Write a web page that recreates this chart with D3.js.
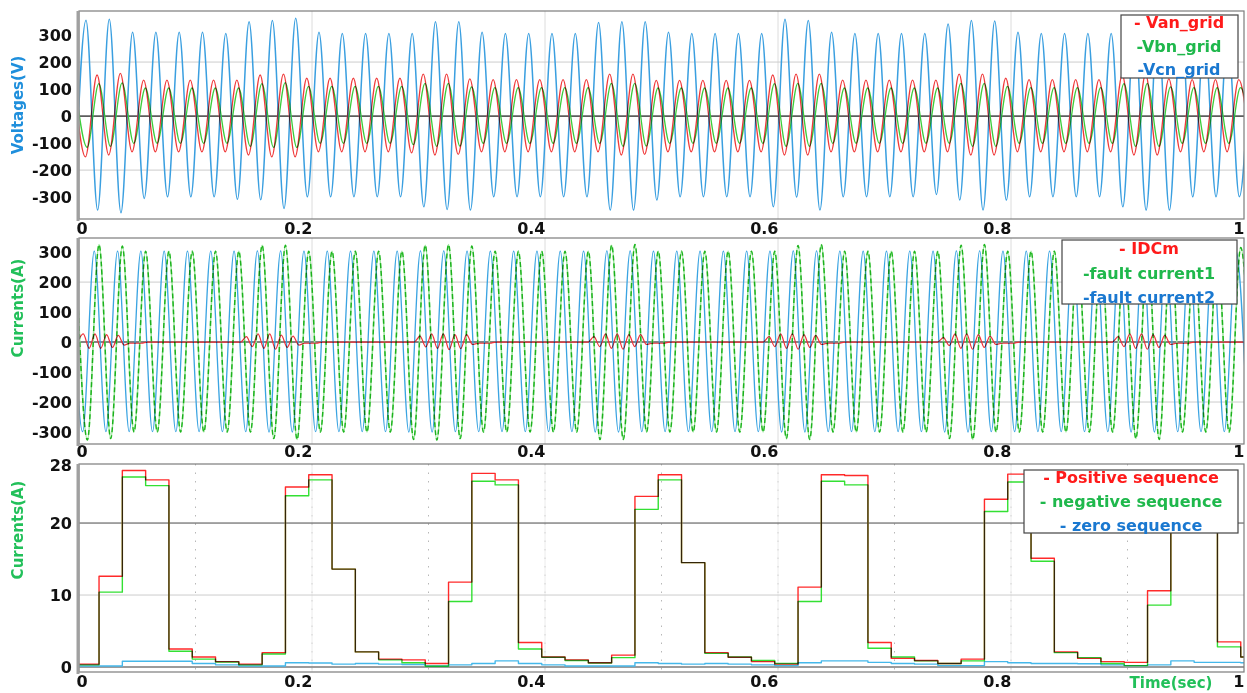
<!DOCTYPE html>
<html><head><meta charset="utf-8">
<script src="https://cdn.jsdelivr.net/npm/d3@7"></script>
<style>
body{margin:0;background:#fff;}
svg{display:block;font-family:"DejaVu Sans",sans-serif;font-weight:bold;}
.trace{fill:none;mix-blend-mode:multiply;stroke-linejoin:round;}
</style></head><body>
<svg id="c" width="1247" height="693"></svg>
<script>
// ---------- DATA ----------
const xTicks = [0, 0.2, 0.4, 0.6, 0.8, 1];
const xTickLabels = ["0", "0.2", "0.4", "0.6", "0.8", "1"];
const voltTicks = [300, 200, 100, 0, -100, -200, -300];
const currTicks = [300, 200, 100, 0, -100, -200, -300];
const seqTicks = [28, 20, 10, 0];
const halfPeriod = 0.01; // 50 Hz waveform: one extremum every 10 ms

// Panel 1 : grid voltages (extremum values per half cycle)
const vcnStart = -0.004; // first value is a trough
const vcnTroughs = [-340, -348, -358, -305, -299, -299, -299, -308, -310, -342, -299, -299, -299, -299, -299, -336, -346, -348, -299, -299, -299, -299, -299, -348, -348, -311, -299, -299, -299, -299, -336, -300, -348, -299, -299, -299, -299, -290, -311, -348, -311, -299, -299, -299, -299, -336, -348, -348, -299, -299, -299];
const vcnPeaks = [355, 358, 310, 310, 310, 310, 306, 349, 354, 362, 310, 306, 306, 306, 306, 349, 349, 310, 306, 306, 306, 306, 346, 349, 349, 310, 306, 306, 306, 306, 358, 354, 310, 306, 306, 306, 306, 341, 354, 352, 310, 306, 306, 306, 306, 345, 350, 350, 310, 306, 306];
const vanStart = -0.0045; // first value is a peak
const vanPeaks = [135, 152, 158, 133, 133, 133, 133, 133, 152, 155, 140, 140, 140, 140, 140, 155, 155, 138, 135, 135, 135, 135, 135, 155, 155, 132, 132, 132, 132, 132, 152, 155, 155, 133, 133, 133, 133, 133, 155, 155, 140, 135, 135, 135, 135, 152, 155, 138, 135, 135, 135];
const vanTroughs = [-151, -144, -132, -132, -132, -132, -132, -144, -151, -151, -132, -132, -132, -132, -136, -144, -142, -132, -132, -132, -132, -132, -132, -144, -142, -132, -132, -132, -132, -132, -144, -144, -132, -132, -132, -132, -132, -132, -144, -144, -132, -132, -132, -132, -132, -144, -144, -132, -132, -132, -132];
const vbnStart = -0.003; // first value is a peak
const vbnPeaks = [105, 120, 123, 104, 104, 104, 104, 104, 120, 124, 110, 110, 110, 110, 110, 121, 121, 108, 105, 105, 105, 105, 105, 121, 121, 104, 104, 104, 104, 104, 120, 121, 121, 104, 104, 104, 104, 104, 121, 121, 110, 105, 105, 105, 105, 120, 121, 108, 105, 105, 105];
const vbnTroughs = [-116, -112, -101, -101, -101, -101, -101, -112, -116, -116, -101, -101, -101, -101, -106, -112, -111, -101, -101, -101, -101, -101, -101, -112, -111, -101, -101, -101, -101, -101, -112, -112, -101, -101, -101, -101, -101, -101, -112, -112, -101, -101, -101, -101, -101, -112, -112, -101, -101, -101, -101];

// Panel 2 : currents
const fc1Start = -0.0028; // first value is a peak
const fc1Peaks = [320, 325, 320, 303, 303, 303, 303, 303, 323, 323, 303, 303, 303, 303, 303, 323, 325, 320, 303, 303, 303, 303, 303, 323, 325, 303, 303, 303, 303, 303, 303, 322, 325, 303, 303, 303, 303, 303, 323, 325, 303, 303, 303, 303, 303, 303, 323, 323, 303, 305, 315];
const fc1Troughs = [-327, -322, -300, -300, -300, -300, -300, -300, -322, -325, -300, -300, -300, -300, -325, -327, -322, -300, -300, -300, -300, -300, -325, -325, -300, -300, -300, -300, -300, -300, -322, -325, -300, -300, -300, -300, -300, -322, -325, -300, -300, -300, -300, -300, -300, -322, -325, -300, -300, -300, -300];
const fc2Start = -0.0069; // first value is a peak
const fc2Peaks = [303, 303, 303, 303, 303, 303, 303, 303, 304, 304, 303, 303, 303, 303, 303, 304, 304, 303, 303, 303, 303, 303, 303, 304, 304, 303, 303, 303, 303, 303, 303, 304, 304, 303, 303, 303, 303, 303, 304, 304, 303, 303, 303, 303, 303, 303, 304, 304, 303, 303, 303];
const fc2Troughs = [-299, -299, -299, -299, -299, -299, -299, -299, -300, -300, -299, -299, -299, -299, -300, -300, -299, -299, -299, -299, -299, -299, -300, -300, -299, -299, -299, -299, -299, -299, -300, -300, -299, -299, -299, -299, -299, -300, -300, -299, -299, -299, -299, -299, -299, -300, -300, -299, -299, -299, -299];
const idcmStep = 0.005;
const idcmStarts = [-0.0013, 0.1387, 0.2877, 0.4370, 0.5873, 0.7370, 0.8870];
const idcmBursts = [
  [0, 27, -21, 27, -21, 25, -18, 22, -10, -4, -4, -4, 0],
  [0, 18, -15, 27, -21, 27, -24, 23, -18, 20, -10, -4, -4, -4, 0],
  [0, 20, -16, 27, -21, 27, -25, 25, -22, 25, -8, -4, -4, -4, 0],
  [0, 18, -15, 27, -21, 27, -24, 25, -15, 25, -8, -4, -4, -4, 0],
  [0, 18, -15, 27, -21, 27, -24, 25, -18, 22, -8, -4, -4, -4, 0],
  [0, 15, -12, 27, -21, 27, -24, 25, -18, 20, -8, -4, -4, -4, 0],
  [0, 18, -15, 27, -21, 27, -24, 25, -18, 22, -8, -4, -4, -4, 0]
];

// Panel 3 : sequence currents, one value per 20 ms step
const seqFirstEdge = 0.0172, seqStep = 0.02;
const positiveSeq = [0.4, 12.6, 27.3, 26.0, 2.5, 1.4, 0.75, 0.4, 2.0, 25.0, 26.7, 13.6, 2.1, 1.1, 1.0, 0.5, 11.8, 26.9, 26.0, 3.4, 1.4, 1.0, 0.6, 1.65, 23.7, 26.7, 14.5, 2.0, 1.35, 0.75, 0.4, 11.1, 26.7, 26.6, 3.4, 1.2, 0.9, 0.5, 1.1, 23.3, 26.8, 15.1, 2.1, 1.2, 0.75, 0.65, 10.6, 27.0, 26.2, 3.5, 1.4];
const negativeSeq = [0.3, 10.4, 26.4, 25.2, 2.2, 1.1, 0.7, 0.3, 1.8, 23.8, 26.0, 13.6, 2.1, 1.0, 0.6, 0.1, 9.1, 25.8, 25.3, 2.5, 1.35, 0.9, 0.55, 1.3, 21.9, 26.0, 14.5, 1.9, 1.4, 0.9, 0.5, 9.1, 25.8, 25.3, 2.6, 1.4, 0.85, 0.5, 0.85, 21.6, 25.7, 14.7, 2.0, 1.3, 0.5, 0.2, 8.6, 26.0, 25.4, 2.8, 1.4];
const zeroSeq = [0.15, 0.15, 0.8, 0.8, 0.8, 0.5, 0.3, 0.15, 0.15, 0.6, 0.55, 0.4, 0.5, 0.4, 0.35, 0.15, 0.3, 0.5, 0.85, 0.5, 0.3, 0.15, 0.15, 0.15, 0.6, 0.5, 0.4, 0.5, 0.4, 0.3, 0.2, 0.6, 0.85, 0.85, 0.65, 0.5, 0.4, 0.2, 0.2, 0.75, 0.6, 0.5, 0.5, 0.45, 0.3, 0.2, 0.3, 0.85, 0.65, 0.65, 0.6];

// ---------- HELPERS ----------
function wave(start, first, second) {
  const pts = [];
  for (let j = 0; j < first.length; j++) {
    pts.push([start + 2 * halfPeriod * j, first[j]]);
    if (j < second.length) pts.push([start + halfPeriod * (2 * j + 1), second[j]]);
  }
  return pts;
}
function idcmPoints() {
  const pts = [];
  idcmBursts.forEach((b, bi) => b.forEach((v, i) => pts.push([idcmStarts[bi] + i * idcmStep, v])));
  pts.push([1.01, 0]);
  return pts;
}
function seqPoints(vals) {
  const pts = vals.map((v, i) => [i === 0 ? 0 : seqFirstEdge + seqStep * (i - 1), v]);
  pts.push([1, vals[vals.length - 1]]);
  return pts;
}

// ---------- DRAW ----------
const svg = d3.select("#c");
const x = d3.scaleLinear().domain([0, 1]).range([79, 1244]);

function panel(cfg) {
  const y = d3.scaleLinear().domain(cfg.domain).range([cfg.bottom, cfg.top]);
  const g = svg.append("g");
  const cid = "clip" + cfg.id;
  svg.append("clipPath").attr("id", cid).append("rect")
    .attr("x", 79).attr("y", cfg.top).attr("width", 1165).attr("height", cfg.bottom - cfg.top);

  // vertical grid
  if (cfg.dotted) {
    g.selectAll(".vd").data(d3.range(1, 10).map(d => d / 10)).join("line")
      .attr("x1", d => x(d)).attr("x2", d => x(d)).attr("y1", cfg.top).attr("y2", cfg.bottom)
      .attr("stroke", "#b8b8b8").attr("stroke-width", 1).attr("stroke-dasharray", "1.5,7");
  }
  g.selectAll(".vg").data([0.2, 0.4, 0.6, 0.8]).join("line")
    .attr("x1", d => x(d)).attr("x2", d => x(d)).attr("y1", cfg.top).attr("y2", cfg.bottom)
    .attr("stroke", cfg.dotted ? "#ececec" : "#dcdcdc").attr("stroke-width", 1);
  // horizontal grid
  cfg.grid.forEach(gr => {
    g.append("line").attr("x1", 79).attr("x2", 1244).attr("y1", y(gr.v)).attr("y2", y(gr.v))
      .attr("stroke", gr.c).attr("stroke-width", gr.w);
  });

  const traces = g.append("g").attr("clip-path", `url(#${cid})`);
  cfg.series.forEach(s => {
    const line = d3.line().x(d => x(d[0])).y(d => y(d[1])).curve(s.curve || d3.curveMonotoneX);
    const p = traces.append("path").attr("class", "trace").attr("d", line(s.pts))
      .attr("stroke", s.color).attr("stroke-width", s.w);
    if (s.dash) p.attr("stroke-dasharray", s.dash);
  });

  // frame
  g.append("rect").attr("x", 79).attr("y", cfg.top).attr("width", 1165).attr("height", cfg.bottom - cfg.top)
    .attr("fill", "none").attr("stroke", "#7c7c7c").attr("stroke-width", 1.2);
  g.append("line").attr("x1", 78).attr("x2", 78).attr("y1", cfg.top).attr("y2", cfg.bottom + 2)
    .attr("stroke", "#a0a0a0").attr("stroke-width", 3);

  // axes
  const ya = d3.axisLeft(y).tickValues(cfg.ticks).tickSize(0).tickPadding(7).tickFormat(d => String(d));
  const yg = g.append("g").attr("transform", "translate(79,0)").call(ya);
  yg.select(".domain").remove();
  yg.selectAll("text").attr("font-size", 16).attr("fill", "#111").attr("font-family", "DejaVu Sans").attr("font-weight", "bold");

  const xa = d3.axisBottom(x).tickValues(xTicks).tickSize(0).tickPadding(cfg.xpad).tickFormat((d, i) => xTickLabels[i]);
  const xg = g.append("g").attr("transform", `translate(0,${cfg.bottom})`).call(xa);
  xg.select(".domain").remove();
  xg.selectAll("text").attr("font-size", 16).attr("fill", "#111").attr("font-family", "DejaVu Sans").attr("font-weight", "bold")
    .attr("text-anchor", (d, i) => i === 0 ? "start" : "end")
    .attr("dx", (d, i) => i === 0 ? -3 : 0);

  // y title
  svg.append("text").attr("transform", `translate(18,${cfg.titleY}) rotate(-90)`)
    .attr("text-anchor", "middle").attr("dominant-baseline", "central")
    .attr("font-size", 15).attr("fill", cfg.titleColor).text(cfg.title);

  // legend
  const L = cfg.legend;
  svg.append("rect").attr("x", L.x).attr("y", L.y).attr("width", L.w).attr("height", L.h)
    .attr("fill", "#fff").attr("stroke", "#444").attr("stroke-width", 1.2);
  L.items.forEach((it, i) => {
    svg.append("text").attr("x", L.cx).attr("y", L.ys[i]).attr("text-anchor", "middle")
      .attr("dominant-baseline", "central").attr("font-size", 16).attr("fill", it.c).text(it.t);
  });
  return y;
}

const RED = "#ff1a1a", GREEN = "#1fb84c", BLUE = "#1a78d0";

panel({
  id: 1, top: 11, bottom: 219, domain: [-381, 389], ticks: voltTicks, xpad: 3.5,
  grid: [{v: 200, c: "#cccccc", w: 1}, {v: -200, c: "#cccccc", w: 1}, {v: 0, c: "#5c5c5c", w: 1.6}],
  series: [
    {pts: wave(vcnStart, vcnTroughs, vcnPeaks), color: "#3a9fe0", w: 1.5},
    {pts: wave(vanStart, vanPeaks, vanTroughs), color: "#f03a3a", w: 1.3},
    {pts: wave(vbnStart, vbnPeaks, vbnTroughs), color: "#3ccd3c", w: 1.3}
  ],
  title: "Voltages(V)", titleY: 105, titleColor: "#1f8fdc",
  legend: {x: 1121, y: 15, w: 117, h: 63, cx: 1179, ys: [22, 46, 69],
    items: [{t: "- Van_grid", c: RED}, {t: "-Vbn_grid", c: GREEN}, {t: "-Vcn_grid", c: BLUE}]}
});

panel({
  id: 2, top: 238, bottom: 444, domain: [-340, 347], ticks: currTicks, xpad: 2,
  grid: [{v: 200, c: "#cccccc", w: 1}, {v: -200, c: "#cccccc", w: 1}, {v: 0, c: "#5c5c5c", w: 1.6}],
  series: [
    {pts: wave(fc1Start, fc1Peaks, fc1Troughs), color: "#9be79b", w: 1.5},
    {pts: wave(fc1Start, fc1Peaks, fc1Troughs), color: "#2fc22f", w: 1.5, dash: "5,3"},
    {pts: wave(fc2Start, fc2Peaks, fc2Troughs), color: "#3aa4e2", w: 1.3},
    {pts: idcmPoints(), color: "#f0303a", w: 1.2}
  ],
  title: "Currents(A)", titleY: 308, titleColor: "#22c05a",
  legend: {x: 1062, y: 240, w: 175, h: 64, cx: 1149, ys: [248, 273, 297],
    items: [{t: "- IDCm", c: RED}, {t: "-fault current1", c: GREEN}, {t: "-fault current2", c: BLUE}]}
});

panel({
  id: 3, top: 464, bottom: 672, domain: [-0.69, 28.2], ticks: seqTicks, xpad: 4, dotted: true,
  grid: [{v: 10, c: "#cccccc", w: 1}, {v: 20, c: "#4a4a4a", w: 1}, {v: 0, c: "#7a7a7a", w: 1.6}],
  series: [
    {pts: seqPoints(zeroSeq), color: "#45b8ea", w: 1.4, curve: d3.curveStepAfter},
    {pts: seqPoints(positiveSeq), color: "#ff2a2a", w: 1.4, curve: d3.curveStepAfter},
    {pts: seqPoints(negativeSeq), color: "#33e033", w: 1.4, curve: d3.curveStepAfter}
  ],
  title: "Currents(A)", titleY: 530, titleColor: "#22c05a",
  legend: {x: 1024, y: 470, w: 214, h: 63, cx: 1131, ys: [477, 501, 525],
    items: [{t: "- Positive sequence", c: RED}, {t: "- negative sequence", c: GREEN}, {t: "- zero sequence", c: BLUE}]}
});

svg.append("text").attr("x", 1171).attr("y", 688).attr("text-anchor", "middle")
  .attr("font-size", 15).attr("fill", "#22c05a").text("Time(sec)");
</script>
</body></html>
